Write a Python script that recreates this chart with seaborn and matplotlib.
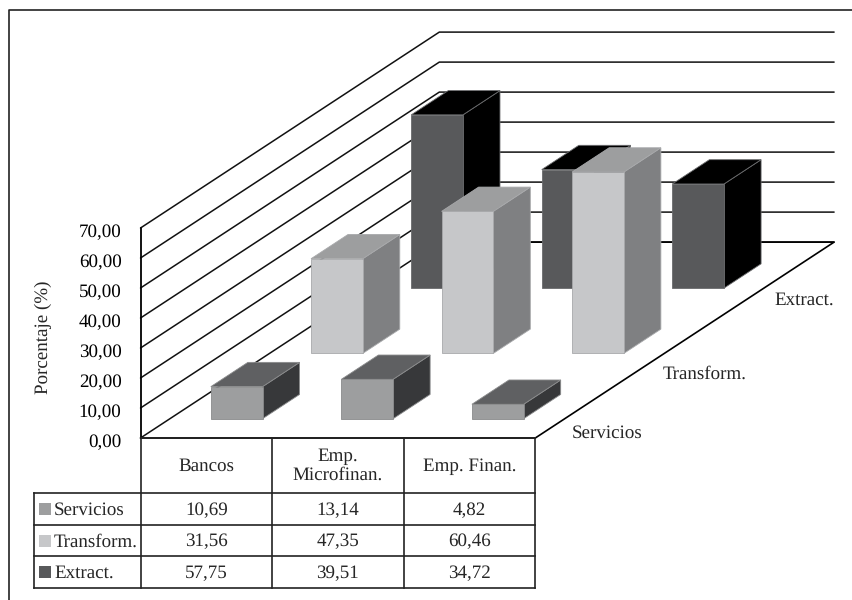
import numpy as np
import matplotlib
matplotlib.use("Agg")
import matplotlib.pyplot as plt
import seaborn as sns

# ---- data ----
categories = ["Bancos", "Emp.\nMicrofinan.", "Emp. Finan."]
series_names = ["Servicios", "Transform.", "Extract."]
servicios = [10.69, 13.14, 4.82]
transform = [31.56, 47.35, 60.46]
extract = [57.75, 39.51, 34.72]
value_ticks = [0, 10, 20, 30, 40, 50, 60, 70]
y_title = "Porcentaje (%)"

# ---- style ----
front_colors = ["#9d9e9f", "#c6c7c9", "#58595b"]
top_colors = ["#5f6062", "#9d9e9f", "#000000"]
side_colors = ["#37383a", "#7f8082", "#000000"]
edge_colors = ["#8a8b8c", "#a8a9ab", "#6a6b6d"]

sns.set_theme(style="white")
plt.rcParams["font.family"] = ["Liberation Serif", "DejaVu Serif"]
plt.rcParams["text.hinting"] = "no_hinting"
plt.rcParams["text.hinting_factor"] = 1
FS = 13.4

W, H = 852, 600
fig = plt.figure(figsize=(W / 100, H / 100), dpi=100)
ax = fig.add_axes([0, 0, 1, 1])

# Oblique projection: y data unit is the percentage value (3 px per unit)
PX_PER_UNIT = 3.0
X0, Y0 = 140.5, 438.0
CAT_W = 131.6
ROW_DX, ROW_DY = 99.6, 65.3 / PX_PER_UNIT
BAR_START, BAR_W = 0.311, 0.393
BAR_PITCH = 0.992
ROW_SHIFT = 0.6
ROW_START, ROW_LEN = 0.295, 0.372


def py(p):
    """pixel row to data y"""
    return (Y0 - p) / PX_PER_UNIT


def proj(c, d, v=0.0):
    return X0 + CAT_W * c + ROW_DX * d, v + ROW_DY * d


def bar_proj(r, c, d, v=0.0):
    x, y = proj(c, d, v)
    return x + r * ROW_SHIFT, y


# walls and floor
n_cat, n_row = len(categories), len(series_names)
for v in value_ticks:
    xs, ys = zip(proj(0, 0, v), proj(0, n_row, v), proj(n_cat, n_row, v))
    ax.plot(xs, ys, color="#111111", lw=1.1, zorder=1, solid_joinstyle="miter")
xs, ys = zip(proj(0, 0, 0), proj(0, 0, value_ticks[-1]))
ax.plot(xs, ys, color="black", lw=1.3, zorder=1)
xs, ys = zip(proj(0, n_row, 0), proj(n_cat, n_row, 0), proj(n_cat, 0, 0), proj(0, 0, 0))
ax.plot(xs, ys, color="black", lw=1.2, zorder=1.5)

# bars, back row first
rows = [servicios, transform, extract]
for r in range(n_row - 1, -1, -1):
    z = 10 + (n_row - r) * 2
    vals = np.array(rows[r], dtype=float)
    d0 = r + ROW_START
    d1 = d0 + ROW_LEN
    starts = [c * BAR_PITCH + BAR_START for c in range(n_cat)]
    xpos = [bar_proj(r, s + BAR_W / 2, d0)[0] for s in starts]
    base = proj(0, d0)[1]
    sns.barplot(x=xpos, y=vals, native_scale=True, width=BAR_W / BAR_PITCH, color=front_colors[r],
                saturation=1, errorbar=None, bottom=base, ax=ax, zorder=z + 1,
                edgecolor=edge_colors[r], linewidth=0.6)
    for s, v in zip(starts, vals):
        c0, c1 = s, s + BAR_W
        top = [bar_proj(r, c0, d0, v), bar_proj(r, c1, d0, v), bar_proj(r, c1, d1, v), bar_proj(r, c0, d1, v)]
        side = [bar_proj(r, c1, d0, 0), bar_proj(r, c1, d1, 0), bar_proj(r, c1, d1, v), bar_proj(r, c1, d0, v)]
        ax.fill(*zip(*side), facecolor=side_colors[r], edgecolor=edge_colors[r], lw=0.6, zorder=z)
        ax.fill(*zip(*top), facecolor=top_colors[r], edgecolor=edge_colors[r], lw=0.6, zorder=z)

# value axis labels
for v in value_ticks:
    ax.text(121.5, v + py(440), f"{v:.2f}".replace(".", ","), ha="right", va="center_baseline",
            fontsize=FS, color="black", zorder=30)
ax.text(43, py(337), y_title, rotation=90, ha="center", va="center", fontsize=FS, zorder=30)

# row labels on the floor edge
for name, lx, lp in zip(series_names, [607, 705, 804], [433, 374, 300]):
    ax.text(lx, py(lp), name, ha="center", va="center", fontsize=FS, zorder=30)

# data table
col_x = [proj(c, 0)[0] for c in range(n_cat + 1)]
row_p = [438, 493, 525, 556, 588]
LEFT = 33.5
line = dict(color="#222222", lw=1.2, zorder=30, solid_capstyle="projecting")
for i, p in enumerate(row_p):
    ax.plot([LEFT if i >= 1 else col_x[0], col_x[-1]], [py(p)] * 2, **line)
for x in col_x:
    ax.plot([x, x], [py(438), py(588)], **line)
ax.plot([LEFT, LEFT], [py(493), py(588)], **line)

for c, cat in enumerate(categories):
    cx = (col_x[c] + col_x[c + 1]) / 2
    ax.text(cx, py(466), cat, ha="center", va="center", fontsize=FS, linespacing=1.1, zorder=31)
    for r in range(n_row):
        ax.text(cx, py((row_p[r + 1] + row_p[r + 2]) / 2 + 1.5),
                f"{rows[r][c]:.2f}".replace(".", ","),
                ha="center", va="center", fontsize=FS, zorder=31)

for r, name in enumerate(series_names):
    pc = (row_p[r + 1] + row_p[r + 2]) / 2
    ax.fill([39, 51, 51, 39], [py(pc - 6), py(pc - 6), py(pc + 6), py(pc + 6)],
            facecolor=front_colors[r], edgecolor="none", zorder=31)
    ax.text(54, py(pc + 1.5), name, ha="left", va="center", fontsize=FS, zorder=31)

# outer frame
ax.plot([9, 9, W], [py(H), py(10), py(10)], color="#222222", lw=1.2, zorder=31)

ax.set_xlim(0, W)
ax.set_ylim(py(H), py(0))
ax.axis("off")
fig.savefig("out.png", dpi=100, facecolor="white")
